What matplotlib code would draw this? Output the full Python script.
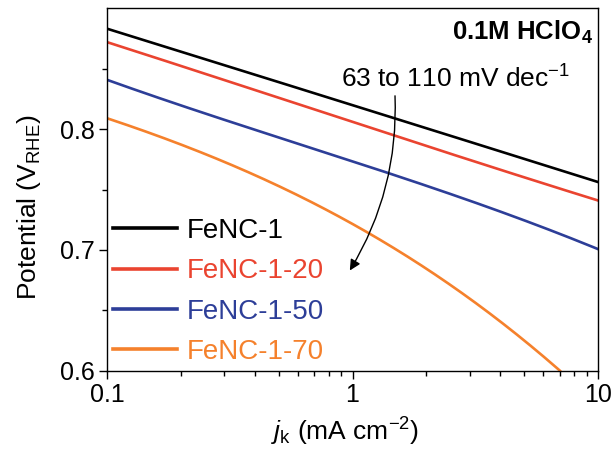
import numpy as np
import matplotlib
matplotlib.use("Agg")
import matplotlib.pyplot as plt

plt.rcParams['font.family'] = ['Liberation Sans', 'DejaVu Sans']
plt.rcParams['mathtext.fontset'] = 'custom'
plt.rcParams['mathtext.rm'] = 'Liberation Sans'
plt.rcParams['mathtext.it'] = 'Liberation Sans:italic'
plt.rcParams['mathtext.bf'] = 'Liberation Sans:bold'

# kinetic current density (mA cm-2) and potential (V vs RHE)
j_main = [0.1, 0.2, 0.5, 1, 2, 5, 10]
e_fenc1 = [0.883, 0.864, 0.839, 0.820, 0.800, 0.776, 0.756]
e_fenc1_20 = [0.872, 0.852, 0.826, 0.806, 0.786, 0.760, 0.741]
e_fenc1_50 = [0.841, 0.819, 0.793, 0.774, 0.753, 0.724, 0.701]

j_70 = [0.1, 0.2, 0.42, 0.5, 1, 2, 3, 5, 7]
e_fenc1_70 = [0.808, 0.790, 0.758, 0.752, 0.722, 0.685, 0.660, 0.625, 0.600]

labels = ['FeNC-1', 'FeNC-1-20', 'FeNC-1-50', 'FeNC-1-70']
colors = ['#000000', '#ea4430', '#2d3e98', '#f5812c']


def smooth(x, y):
    # smooth curve through the read points, in log x
    lx = np.log10(x)
    xs = np.linspace(lx[0], lx[-1], 200)
    coef = np.polyfit(lx, y, 3)
    return 10 ** xs, np.polyval(coef, xs)


fig = plt.figure(figsize=(6.12, 4.55), dpi=100)
ax = fig.add_axes([0.175, 0.185, 0.802, 0.797])

series = [(j_main, e_fenc1), (j_main, e_fenc1_20), (j_main, e_fenc1_50), (j_70, e_fenc1_70)]
for (x, y), lab, c in zip(series, labels, colors):
    xs, ys = smooth(x, y)
    ax.plot(xs, ys, color=c, lw=1.9, label=lab)

ax.set_xscale('log')
ax.set_xlim(0.1, 10)
ax.set_ylim(0.6, 0.9)
ax.set_xticks([0.1, 1, 10])
ax.set_xticklabels(['0.1', '1', '10'])
ax.set_yticks([0.6, 0.7, 0.8])
ax.set_yticks([0.65, 0.75, 0.85], minor=True)
ax.tick_params(which='both', direction='out', labelsize=18, top=False, right=False, width=1.0, pad=3)
ax.tick_params(which='major', length=6)
ax.tick_params(which='minor', length=3.5)
for s in ax.spines.values():
    s.set_linewidth(1.0)

ax.set_xlabel(r'$j_{\mathrm{k}}$ (mA cm$^{-2}$)', fontsize=19)
ax.set_ylabel(r'Potential (V$_{\mathrm{RHE}}$)', fontsize=19)
ax.xaxis.set_label_coords(0.485, -0.125)
ax.yaxis.set_label_coords(-0.131, 0.45)

ax.text(0.99, 0.934, r'0.1M HClO$_\mathbf{4}$', transform=ax.transAxes, ha='right', va='center',
        fontsize=18.5, fontweight='bold')
ax.text(0.709, 0.804, r'63 to 110 mV dec$^{-1}$', transform=ax.transAxes, ha='center', va='center',
        fontsize=19)

ax.annotate('', xy=(0.975, 0.683), xytext=(1.49, 0.8275),
            arrowprops=dict(arrowstyle='-|>', color='black', lw=1.0, shrinkA=0, shrinkB=0,
                            connectionstyle='arc3,rad=-0.15', mutation_scale=16))

leg = ax.legend(loc='lower left', frameon=False, fontsize=20, handlelength=2.3,
                handletextpad=0.35, labelspacing=0.52, borderaxespad=0.0,
                bbox_to_anchor=(-0.01, -0.015))
for t, c in zip(leg.get_texts(), colors):
    t.set_color(c)
for h in leg.get_lines():
    h.set_linewidth(2.6)

fig.savefig('out.png', dpi=100)
